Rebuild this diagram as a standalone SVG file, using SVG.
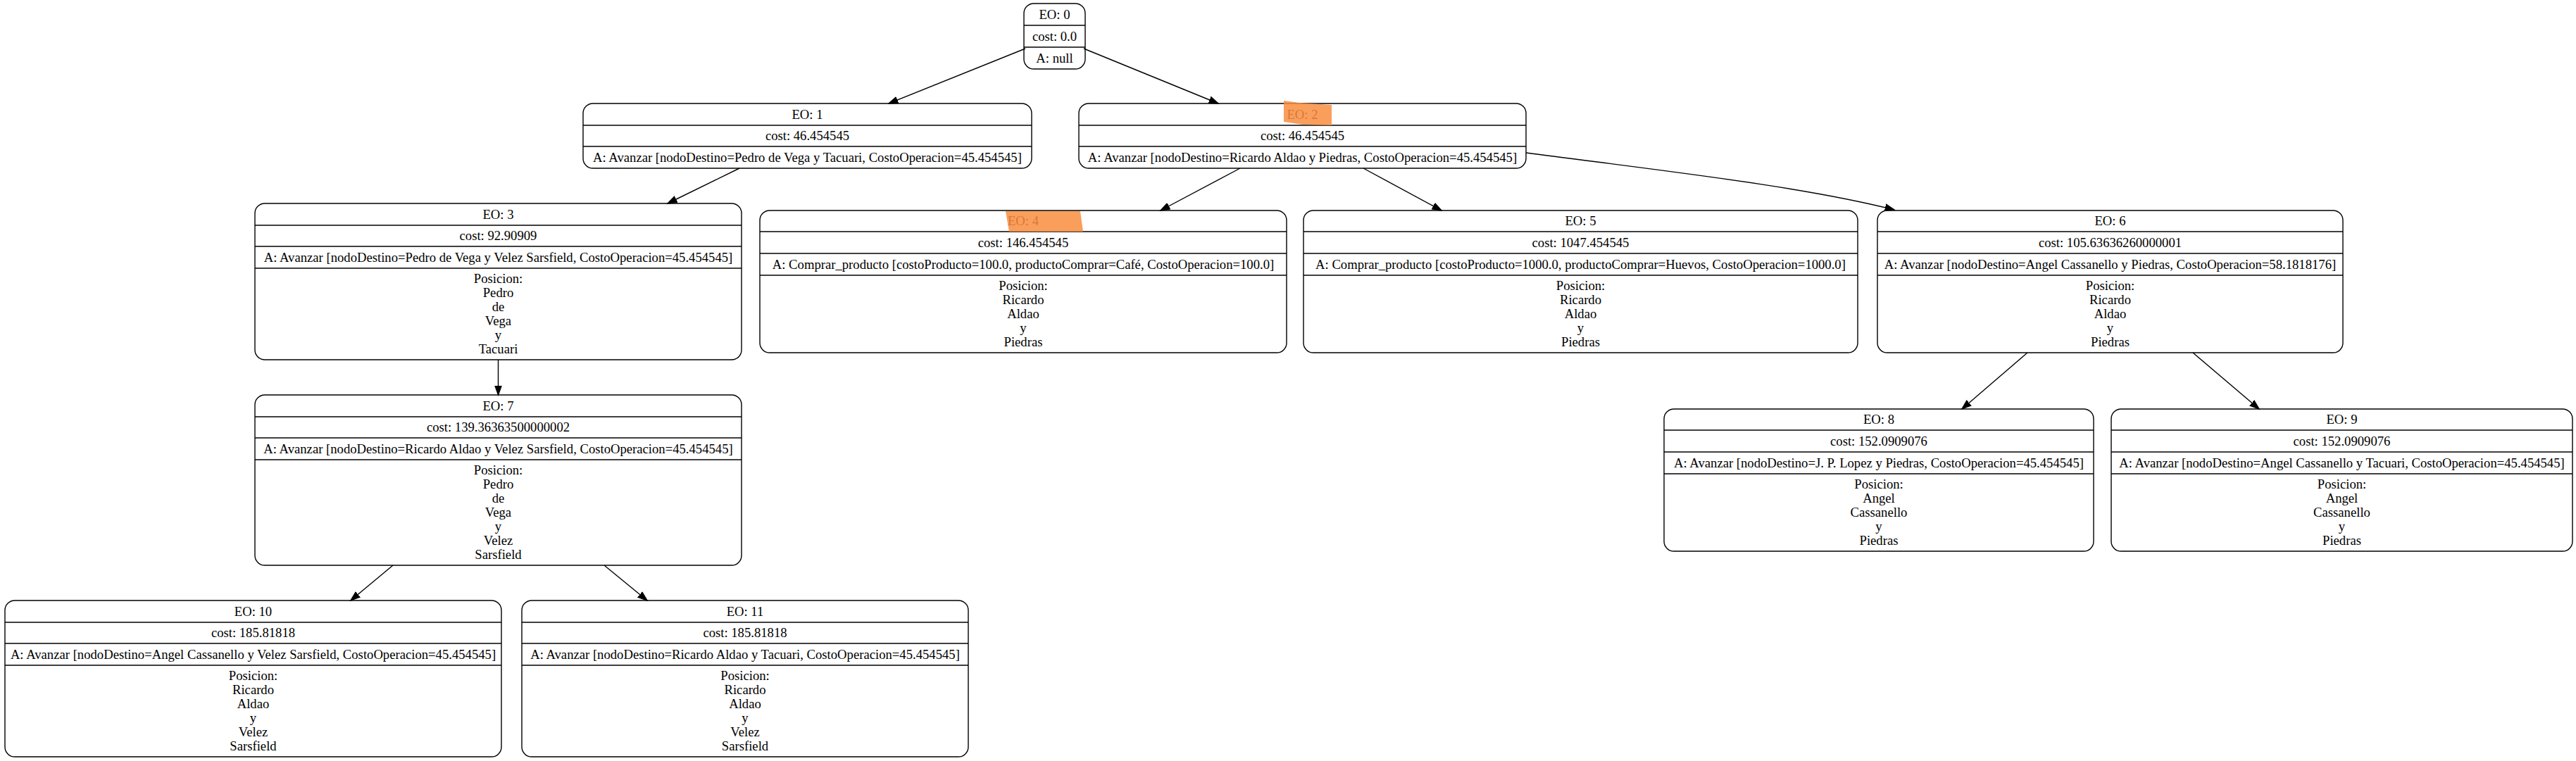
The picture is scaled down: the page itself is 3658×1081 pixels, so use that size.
<svg xmlns="http://www.w3.org/2000/svg" width="3658" height="1081" viewBox="0 0 3658 1081">
<style>
.box{fill:none;stroke:#000;stroke-width:1.4}
.sep{stroke:#000;stroke-width:1.4}
text{font-family:"Liberation Serif","Times New Roman",serif;font-size:18.67px;text-anchor:middle;fill:#000}
.edge{fill:none;stroke:#000;stroke-width:1.4;marker-end:url(#arrow)}
.hl{fill:#f98d3f;fill-opacity:0.85;stroke:none}
</style>
<defs>
<marker id="arrow" markerUnits="userSpaceOnUse" markerWidth="16" markerHeight="12" viewBox="0 -6 16 12" refX="13.3" refY="0" orient="auto">
<path d="M0,-4.7 L13.3,0 L0,4.7 Z" fill="#000" stroke="#000" stroke-width="1.4"/>
</marker>
</defs>
<rect x="0" y="0" width="3658" height="1081" fill="#fff"/>

<g id="connectors">
<path class="edge" d="M1456,69 L1262,147"/>
<path class="edge" d="M1539,69 L1730,147"/>
<path class="edge" d="M1050,239 L948,289"/>
<path class="edge" d="M1761,239 L1648,299"/>
<path class="edge" d="M1936,239 L2047,299"/>
<path class="edge" d="M2167,217 C2380,245 2560,265 2690,298"/>
<path class="edge" d="M707.5,511 L707.5,561"/>
<path class="edge" d="M2879,501 L2786,581"/>
<path class="edge" d="M3114,501 L3208,581"/>
<path class="edge" d="M558,803 L498,853"/>
<path class="edge" d="M858,803 L919,853"/>
</g>

<g id="node0">
<rect class="box" x="1454" y="5" width="87" height="93" rx="14"/>
<line class="sep" x1="1454" y1="36" x2="1541" y2="36"/>
<line class="sep" x1="1454" y1="67" x2="1541" y2="67"/>
<text x="1497.5" y="26.5">EO: 0</text>
<text x="1497.5" y="57.5">cost: 0.0</text>
<text x="1497.5" y="88.5">A: null</text>
</g>

<g id="node1">
<rect class="box" x="828" y="147" width="637" height="92" rx="14"/>
<line class="sep" x1="828" y1="178" x2="1465" y2="178"/>
<line class="sep" x1="828" y1="208" x2="1465" y2="208"/>
<text x="1146.5" y="168.5">EO: 1</text>
<text x="1146.5" y="199">cost: 46.454545</text>
<text x="1146.5" y="229.5">A: Avanzar [nodoDestino=Pedro de Vega y Tacuari, CostoOperacion=45.454545]</text>
</g>

<g id="node2">
<rect class="box" x="1532" y="147" width="635" height="92" rx="14"/>
<line class="sep" x1="1532" y1="178" x2="2167" y2="178"/>
<line class="sep" x1="1532" y1="208" x2="2167" y2="208"/>
<text x="1849.5" y="168.5">EO: 2</text>
<polygon class="hl" points="1823,143 1845,146 1891,149 1891,178 1850,177 1823,173"/>
<text x="1849.5" y="199">cost: 46.454545</text>
<text x="1849.5" y="229.5">A: Avanzar [nodoDestino=Ricardo Aldao y Piedras, CostoOperacion=45.454545]</text>
</g>

<g id="node3">
<rect class="box" x="362" y="289" width="691" height="222" rx="14"/>
<line class="sep" x1="362" y1="320" x2="1053" y2="320"/>
<line class="sep" x1="362" y1="350" x2="1053" y2="350"/>
<line class="sep" x1="362" y1="381" x2="1053" y2="381"/>
<text x="707.5" y="310.5">EO: 3</text>
<text x="707.5" y="341">cost: 92.90909</text>
<text x="707.5" y="371.5">A: Avanzar [nodoDestino=Pedro de Vega y Velez Sarsfield, CostoOperacion=45.454545]</text>
<text x="707.5" y="402"><tspan x="707.5">Posicion:</tspan><tspan x="707.5" dy="20">Pedro</tspan><tspan x="707.5" dy="20">de</tspan><tspan x="707.5" dy="20">Vega</tspan><tspan x="707.5" dy="20">y</tspan><tspan x="707.5" dy="20">Tacuari</tspan></text>
</g>

<g id="node4">
<rect class="box" x="1079" y="299" width="748" height="202" rx="14"/>
<line class="sep" x1="1079" y1="329" x2="1827" y2="329"/>
<line class="sep" x1="1079" y1="360" x2="1827" y2="360"/>
<line class="sep" x1="1079" y1="391" x2="1827" y2="391"/>
<text x="1453" y="320">EO: 4</text>
<polygon class="hl" points="1428,300 1534,300 1538,329 1433,329"/>
<text x="1453" y="350.5">cost: 146.454545</text>
<text x="1453" y="381.5">A: Comprar_producto [costoProducto=100.0, productoComprar=Café, CostoOperacion=100.0]</text>
<text x="1453" y="412"><tspan x="1453">Posicion:</tspan><tspan x="1453" dy="20">Ricardo</tspan><tspan x="1453" dy="20">Aldao</tspan><tspan x="1453" dy="20">y</tspan><tspan x="1453" dy="20">Piedras</tspan></text>
</g>

<g id="node5">
<rect class="box" x="1851" y="299" width="787" height="202" rx="14"/>
<line class="sep" x1="1851" y1="329" x2="2638" y2="329"/>
<line class="sep" x1="1851" y1="360" x2="2638" y2="360"/>
<line class="sep" x1="1851" y1="391" x2="2638" y2="391"/>
<text x="2244.5" y="320">EO: 5</text>
<text x="2244.5" y="350.5">cost: 1047.454545</text>
<text x="2244.5" y="381.5">A: Comprar_producto [costoProducto=1000.0, productoComprar=Huevos, CostoOperacion=1000.0]</text>
<text x="2244.5" y="412"><tspan x="2244.5">Posicion:</tspan><tspan x="2244.5" dy="20">Ricardo</tspan><tspan x="2244.5" dy="20">Aldao</tspan><tspan x="2244.5" dy="20">y</tspan><tspan x="2244.5" dy="20">Piedras</tspan></text>
</g>

<g id="node6">
<rect class="box" x="2666" y="299" width="661" height="202" rx="14"/>
<line class="sep" x1="2666" y1="329" x2="3327" y2="329"/>
<line class="sep" x1="2666" y1="360" x2="3327" y2="360"/>
<line class="sep" x1="2666" y1="391" x2="3327" y2="391"/>
<text x="2996.5" y="320">EO: 6</text>
<text x="2996.5" y="350.5">cost: 105.63636260000001</text>
<text x="2996.5" y="381.5">A: Avanzar [nodoDestino=Angel Cassanello y Piedras, CostoOperacion=58.1818176]</text>
<text x="2996.5" y="412"><tspan x="2996.5">Posicion:</tspan><tspan x="2996.5" dy="20">Ricardo</tspan><tspan x="2996.5" dy="20">Aldao</tspan><tspan x="2996.5" dy="20">y</tspan><tspan x="2996.5" dy="20">Piedras</tspan></text>
</g>

<g id="node7">
<rect class="box" x="362" y="561" width="691" height="242" rx="14"/>
<line class="sep" x1="362" y1="592" x2="1053" y2="592"/>
<line class="sep" x1="362" y1="622" x2="1053" y2="622"/>
<line class="sep" x1="362" y1="653" x2="1053" y2="653"/>
<text x="707.5" y="582.5">EO: 7</text>
<text x="707.5" y="613">cost: 139.36363500000002</text>
<text x="707.5" y="643.5">A: Avanzar [nodoDestino=Ricardo Aldao y Velez Sarsfield, CostoOperacion=45.454545]</text>
<text x="707.5" y="673.5"><tspan x="707.5">Posicion:</tspan><tspan x="707.5" dy="20">Pedro</tspan><tspan x="707.5" dy="20">de</tspan><tspan x="707.5" dy="20">Vega</tspan><tspan x="707.5" dy="20">y</tspan><tspan x="707.5" dy="20">Velez</tspan><tspan x="707.5" dy="20">Sarsfield</tspan></text>
</g>

<g id="node8">
<rect class="box" x="2363" y="581" width="610" height="202" rx="14"/>
<line class="sep" x1="2363" y1="611" x2="2973" y2="611"/>
<line class="sep" x1="2363" y1="642" x2="2973" y2="642"/>
<line class="sep" x1="2363" y1="673" x2="2973" y2="673"/>
<text x="2668" y="602">EO: 8</text>
<text x="2668" y="632.5">cost: 152.0909076</text>
<text x="2668" y="663.5">A: Avanzar [nodoDestino=J. P. Lopez y Piedras, CostoOperacion=45.454545]</text>
<text x="2668" y="694"><tspan x="2668">Posicion:</tspan><tspan x="2668" dy="20">Angel</tspan><tspan x="2668" dy="20">Cassanello</tspan><tspan x="2668" dy="20">y</tspan><tspan x="2668" dy="20">Piedras</tspan></text>
</g>

<g id="node9">
<rect class="box" x="2998" y="581" width="655" height="202" rx="14"/>
<line class="sep" x1="2998" y1="611" x2="3653" y2="611"/>
<line class="sep" x1="2998" y1="642" x2="3653" y2="642"/>
<line class="sep" x1="2998" y1="673" x2="3653" y2="673"/>
<text x="3325.5" y="602">EO: 9</text>
<text x="3325.5" y="632.5">cost: 152.0909076</text>
<text x="3325.5" y="663.5">A: Avanzar [nodoDestino=Angel Cassanello y Tacuari, CostoOperacion=45.454545]</text>
<text x="3325.5" y="694"><tspan x="3325.5">Posicion:</tspan><tspan x="3325.5" dy="20">Angel</tspan><tspan x="3325.5" dy="20">Cassanello</tspan><tspan x="3325.5" dy="20">y</tspan><tspan x="3325.5" dy="20">Piedras</tspan></text>
</g>

<g id="node10">
<rect class="box" x="7" y="853" width="705" height="222" rx="14"/>
<line class="sep" x1="7" y1="884" x2="712" y2="884"/>
<line class="sep" x1="7" y1="914" x2="712" y2="914"/>
<line class="sep" x1="7" y1="945" x2="712" y2="945"/>
<text x="359.5" y="874.5">EO: 10</text>
<text x="359.5" y="905">cost: 185.81818</text>
<text x="359.5" y="935.5">A: Avanzar [nodoDestino=Angel Cassanello y Velez Sarsfield, CostoOperacion=45.454545]</text>
<text x="359.5" y="966"><tspan x="359.5">Posicion:</tspan><tspan x="359.5" dy="20">Ricardo</tspan><tspan x="359.5" dy="20">Aldao</tspan><tspan x="359.5" dy="20">y</tspan><tspan x="359.5" dy="20">Velez</tspan><tspan x="359.5" dy="20">Sarsfield</tspan></text>
</g>

<g id="node11">
<rect class="box" x="741" y="853" width="634" height="222" rx="14"/>
<line class="sep" x1="741" y1="884" x2="1375" y2="884"/>
<line class="sep" x1="741" y1="914" x2="1375" y2="914"/>
<line class="sep" x1="741" y1="945" x2="1375" y2="945"/>
<text x="1058" y="874.5">EO: 11</text>
<text x="1058" y="905">cost: 185.81818</text>
<text x="1058" y="935.5">A: Avanzar [nodoDestino=Ricardo Aldao y Tacuari, CostoOperacion=45.454545]</text>
<text x="1058" y="966"><tspan x="1058">Posicion:</tspan><tspan x="1058" dy="20">Ricardo</tspan><tspan x="1058" dy="20">Aldao</tspan><tspan x="1058" dy="20">y</tspan><tspan x="1058" dy="20">Velez</tspan><tspan x="1058" dy="20">Sarsfield</tspan></text>
</g>
</svg>
